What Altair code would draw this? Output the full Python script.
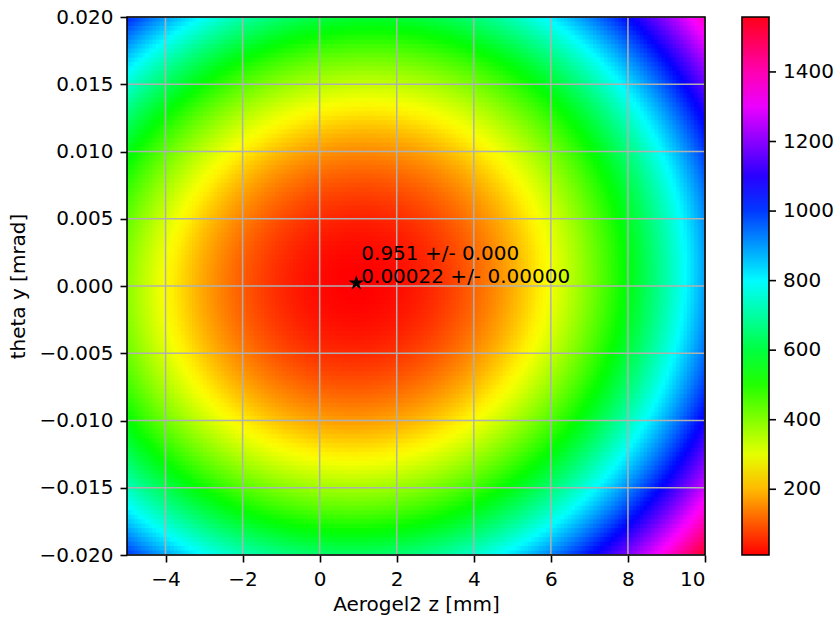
import altair as alt
import numpy as np
import pandas as pd

# ---- fit result (star + annotation) ----
FIT_X = [0.951]
FIT_Y = [0.00022]
FIT_TEXT_1 = ["0.951 +/- 0.000"]
FIT_TEXT_2 = ["0.00022 +/- 0.00000"]

# ---- chi2 surface parameters ----
CHI2_MIN = 11.0          # value at the fitted point
CURV_X = 10.8            # per mm^2
CURV_Y = 1.5025e6        # per mrad^2
CROSS_XY = -306.0        # mixed term
CROSS_XYY = -8528.0      # mixed term, second order in theta y
SKEW_Y = -1.544e6        # asymmetry in theta y

# ---- axes / colour bar ----
X_RANGE = [-5, 10]
Y_RANGE = [-0.02, 0.02]
X_TICKS = [-4, -2, 0, 2, 4, 6, 8, 10]
Y_TICKS = [-0.02, -0.015, -0.01, -0.005, 0.0, 0.005, 0.01, 0.015, 0.02]
CBAR_TICKS = [200, 400, 600, 800, 1000, 1200, 1400]
CBAR_RANGE = [11, 1558]

# matplotlib "hsv" colormap stops
HSV_POS = [0.0, 0.158730, 0.174603, 0.333333, 0.349206, 0.507937,
           0.666667, 0.682540, 0.841270, 0.857143, 1.0]
HSV_COL = ["#ff0000", "#fff000", "#f7ff00", "#08ff00", "#00ff10", "#00ffff",
           "#0010ff", "#0800ff", "#f700ff", "#ff00ef", "#ff0018"]

NX, NY = 160, 120
step_x = (X_RANGE[1] - X_RANGE[0]) / NX
step_y = (Y_RANGE[1] - Y_RANGE[0]) / NY
xs = X_RANGE[0] + step_x * np.arange(NX)
ys = Y_RANGE[0] + step_y * np.arange(NY)
GX, GY = np.meshgrid(xs, ys)
dX = GX + step_x / 2 - FIT_X[0]
dY = GY + step_y / 2 - FIT_Y[0]
V = (CHI2_MIN + CURV_X * dX**2 + CURV_Y * dY**2 + CROSS_XY * dX * dY
     + CROSS_XYY * dX * dY**2 + SKEW_Y * dY**3)
grid = pd.DataFrame({"x": np.round(GX.ravel(), 5),
                     "y": np.round(GY.ravel(), 6),
                     "v": np.round(V.ravel(), 1)})

W, H = 578, 538
FONT = "DejaVu Sans"
CB_OFFSET, CB_THICK, CB_TICK = 37, 27, 7

xscale = alt.Scale(domain=X_RANGE, nice=False, zero=False)
yscale = alt.Scale(domain=Y_RANGE, nice=False, zero=False)

vmin, vmax = CBAR_RANGE
cscale = alt.Scale(domain=[vmin + p * (vmax - vmin) for p in HSV_POS],
                   range=HSV_COL, clamp=True, interpolate="rgb")

xaxis = alt.Axis(values=X_TICKS, title="Aerogel2 z [mm]", grid=False, domain=False,
                 labelPadding=7, titlePadding=5,
                 labelExpr="replace(format(datum.value, 'd'), '-', '\u2212')")
yaxis = alt.Axis(values=Y_TICKS, title="theta y [mrad]", grid=False, domain=False,
                 labelPadding=7, titlePadding=10,
                 labelExpr="replace(format(datum.value, '.3f'), '-', '\u2212')")

heat = alt.Chart(grid).mark_rect(clip=True, strokeWidth=0).transform_calculate(
    x2=f"datum.x + {step_x * 1.45}",
    y2=f"datum.y + {step_y * 1.45}",
).encode(
    x=alt.X("x:Q", scale=xscale, axis=xaxis),
    x2="x2:Q",
    y=alt.Y("y:Q", scale=yscale, axis=yaxis),
    y2="y2:Q",
    color=alt.Color("v:Q", scale=cscale, legend=alt.Legend(
        type="gradient", orient="right", direction="vertical", title=None,
        values=CBAR_TICKS, format="d", offset=CB_OFFSET, padding=0,
        gradientLength=H, gradientThickness=CB_THICK,
        gradientStrokeColor="black", gradientStrokeWidth=1.6,
        labelFont=FONT, labelFontSize=20, labelColor="black", labelOffset=14,
        labelOverlap=False, labelLimit=200)),
)

vgrid = alt.Chart(pd.DataFrame({"x": X_TICKS})).mark_rule(
    color="#b0b0b0", strokeWidth=1.5).encode(x=alt.X("x:Q", scale=xscale, axis=xaxis))
hgrid = alt.Chart(pd.DataFrame({"y": Y_TICKS})).mark_rule(
    color="#b0b0b0", strokeWidth=1.5).encode(y=alt.Y("y:Q", scale=yscale, axis=None))

frame = alt.Chart(pd.DataFrame({"a": [0]})).mark_rect(
    filled=False, stroke="black", strokeWidth=1.6, fill=None).encode(
    x=alt.value(0), x2=alt.value(W), y=alt.value(0), y2=alt.value(H))

# colour-bar tick marks
cb_x = W + CB_OFFSET + CB_THICK
cbticks = alt.Chart(pd.DataFrame({"v": CBAR_TICKS})).mark_rule(
    color="black", strokeWidth=1.6).encode(
    x=alt.value(cb_x), x2=alt.value(cb_x + CB_TICK),
    y=alt.Y("v:Q", scale=alt.Scale(domain=CBAR_RANGE, nice=False, zero=False), axis=None))

fit = pd.DataFrame({"x": FIT_X, "y": FIT_Y, "t1": FIT_TEXT_1, "t2": FIT_TEXT_2})
STAR = ("M0,-1L0.2245,-0.309L0.951,-0.309L0.363,0.118L0.588,0.809L0,0.382"
        "L-0.588,0.809L-0.363,0.118L-0.951,-0.309L-0.2245,-0.309Z")
star = alt.Chart(fit).mark_point(shape=STAR, filled=True, color="black",
                                 size=260, opacity=1).encode(
    x=alt.X("x:Q", scale=xscale, axis=xaxis), y=alt.Y("y:Q", scale=yscale, axis=None))
txt1 = alt.Chart(fit).mark_text(align="left", baseline="alphabetic", dx=5, dy=-23.5,
                                font=FONT, fontSize=20, color="black").encode(
    x=alt.X("x:Q", scale=xscale, axis=xaxis), y=alt.Y("y:Q", scale=yscale, axis=None),
    text="t1:N")
txt2 = alt.Chart(fit).mark_text(align="left", baseline="alphabetic", dx=5, dy=0,
                                font=FONT, fontSize=20, color="black").encode(
    x=alt.X("x:Q", scale=xscale, axis=xaxis), y=alt.Y("y:Q", scale=yscale, axis=None),
    text="t2:N")

chart = alt.layer(heat, vgrid, hgrid, frame, star, txt1, txt2, cbticks).resolve_scale(
    y="independent"
).properties(
    width=W, height=H,
    autosize=alt.AutoSizeParams(type="none"),
    padding={"left": 127, "top": 17, "right": 836 - 127 - W, "bottom": 617 - 17 - H},
    background="white",
).configure_view(stroke=None).configure_axis(
    labelFont=FONT, labelFontSize=20, labelColor="black",
    titleFont=FONT, titleFontSize=20, titleFontWeight="normal", titleColor="black",
    tickColor="black", tickWidth=1.6, tickSize=7,
)

chart.save("out.html", embed_options={"renderer": "svg", "actions": False})
